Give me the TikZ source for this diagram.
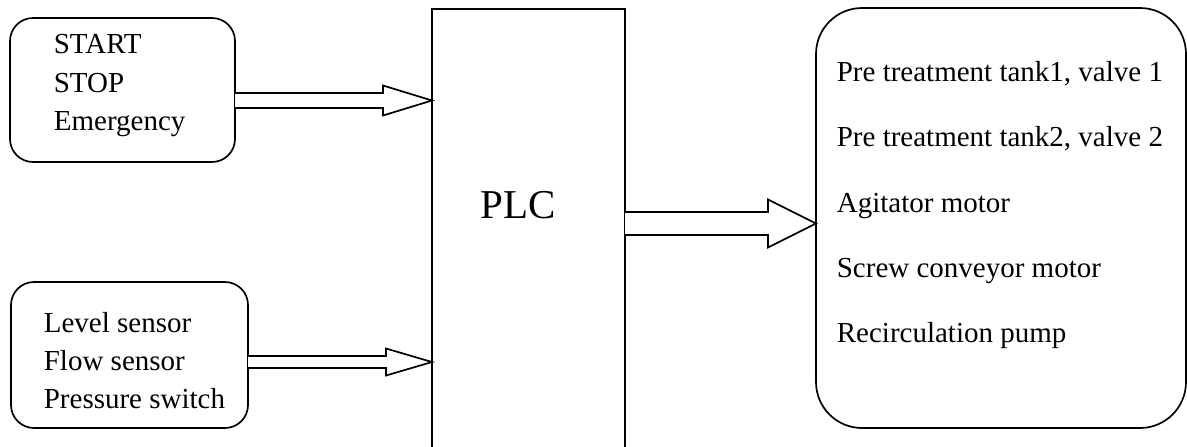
\documentclass[tikz,border=0pt]{standalone}
\usepackage{fontspec}
\setmainfont{Liberation Serif}
\usetikzlibrary{calc}
\begin{document}
\begin{tikzpicture}[x=0.5pt,y=-0.5pt,
  line width=0.85pt,
  box/.style={draw,inner sep=0pt,outer sep=0pt},
  txt/.style={inner sep=0pt,anchor=base west,font=\fontsize{14.5}{17}\selectfont},
  blk/.style={draw,fill=white,line join=miter}]
\useasboundingbox (0,0) rectangle (1187,446);
\clip (0,0) rectangle (1187,446);
% PLC block (runs past the bottom edge)
\node[box,minimum width=96.5pt,minimum height=240pt,anchor=north west] (plc) at (432,9) {};
\node[inner sep=0pt,anchor=base west,font=\fontsize{20.5}{24}\selectfont] (plct) at (480,218) {PLC};
% input box 1
\node[box,rounded corners=11.5pt,minimum width=112.5pt,minimum height=72pt,anchor=north west] (in1) at (10,18) {};
\node[txt] (t11) at (53,53) {START};
\node[txt] (t12) at (53,92) {STOP};
\node[txt] (t13) at (53,130) {Emergency};
% input box 2
\node[box,rounded corners=11.5pt,minimum width=118.5pt,minimum height=73pt,anchor=north west] (in2) at (11,282) {};
\node[txt] (t21) at (43,332) {Level sensor};
\node[txt] (t22) at (43,370) {Flow sensor};
\node[txt] (t23) at (43,408) {Pressure switch};
% output box
\node[box,rounded corners=23pt,minimum width=185pt,minimum height=210pt,anchor=north west] (out) at (816,8) {};
\node[txt] (o1) at (836,81) {Pre treatment tank1, valve 1};
\node[txt] (o2) at (836,146) {Pre treatment tank2, valve 2};
\node[txt] (o3) at (836,212) {Agitator motor};
\node[txt] (o4) at (836,277) {Screw conveyor motor};
\node[txt] (o5) at (836,342) {Recirculation pump};
% arrows
\coordinate (a1s) at (in1.east |- 0,100.5);
\coordinate (a1e) at (plc.west |- a1s);
\draw[blk] ($(a1s)+(0,-7.5)$) -- ($(a1e)+(-49,-7.5)$) -- ($(a1e)+(-49,-15)$) -- (a1e)
  -- ($(a1e)+(-49,15)$) -- ($(a1e)+(-49,7.5)$) -- ($(a1s)+(0,7.5)$);
\coordinate (a2s) at (in2.east |- 0,362);
\coordinate (a2e) at (plc.west |- a2s);
\draw[blk] ($(a2s)+(0,-6)$) -- ($(a2e)+(-46,-6)$) -- ($(a2e)+(-46,-13.5)$) -- (a2e)
  -- ($(a2e)+(-46,13.5)$) -- ($(a2e)+(-46,6)$) -- ($(a2s)+(0,6)$);
\coordinate (a3s) at (plc.east |- 0,223.5);
\coordinate (a3e) at (out.west |- a3s);
\draw[blk] ($(a3s)+(0,-11.5)$) -- ($(a3e)+(-48,-11.5)$) -- ($(a3e)+(-48,-24)$) -- (a3e)
  -- ($(a3e)+(-48,24)$) -- ($(a3e)+(-48,11.5)$) -- ($(a3s)+(0,11.5)$);
\end{tikzpicture}
\end{document}
